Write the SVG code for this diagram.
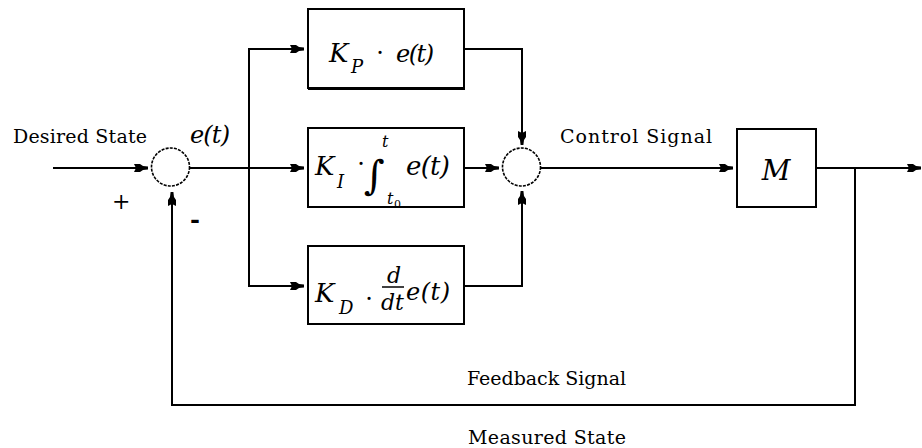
<svg xmlns="http://www.w3.org/2000/svg" width="922" height="448" viewBox="0 0 922 448">
<defs>
<marker id="arr" markerUnits="userSpaceOnUse" markerWidth="16" markerHeight="10" refX="14" refY="5" orient="auto" viewBox="0 0 16 10">
<path d="M0,1 L6,1 L9,3 L14,3.6 L14,6.4 L9,7 L6,9 L0,9 L2,5 Z" fill="#000"/>
</marker>
</defs>
<style>
.ln{fill:none;stroke:#000;stroke-width:2}
.box{fill:#fff;stroke:#000;stroke-width:2}
.sum{fill:#fff;stroke:#000;stroke-width:1.6;stroke-dasharray:3 1.2}
text{font-family:'DejaVu Serif','Liberation Serif','Times New Roman',serif;fill:#000}
.lbl{font-size:19px}
.m{font-style:italic}
</style>
<rect width="922" height="448" fill="#fff"/>
<g id="connectors">
<path class="ln" d="M53,168 H148" marker-end="url(#arr)"/>
<path class="ln" d="M190,168 H304" marker-end="url(#arr)"/>
<path class="ln" d="M249,49 V286"/>
<path class="ln" d="M248,49 H304" marker-end="url(#arr)"/>
<path class="ln" d="M248,286 H304" marker-end="url(#arr)"/>
<path class="ln" d="M464,49 H522 V145" marker-end="url(#arr)"/>
<path class="ln" d="M464,168 H499" marker-end="url(#arr)"/>
<path class="ln" d="M464,286 H522 V191" marker-end="url(#arr)"/>
<path class="ln" d="M541,168 H733" marker-end="url(#arr)"/>
<path class="ln" d="M816,168 H921" marker-end="url(#arr)"/>
<path class="ln" d="M855,168 V405 H172 V192" marker-end="url(#arr)"/>
</g>
<g id="sum1">
<circle class="sum" cx="170.5" cy="167" r="19"/>
<text x="112" y="209" font-size="22">+</text>
<text x="190" y="228" font-size="24" font-weight="bold">-</text>
</g>
<g id="sum2">
<circle class="sum" cx="521.5" cy="167" r="19"/>
</g>
<g id="kp">
<rect class="box" x="308" y="9" width="156" height="79"/>
<line x1="308" y1="89" x2="465" y2="89" stroke="#000" stroke-width="2"/>
<text class="m" x="329" y="62" font-size="26">K</text>
<text class="m" x="351" y="73" font-size="18">P</text>
<text x="380" y="61" font-size="24" text-anchor="middle">·</text>
<text class="m" x="396" y="62" font-size="24" textLength="38">e(t)</text>
</g>
<g id="ki">
<rect class="box" x="308" y="128" width="156" height="79"/>
<text class="m" x="315" y="175" font-size="26">K</text>
<text class="m" x="337" y="188" font-size="18">I</text>
<text x="361" y="172" font-size="24" text-anchor="middle">·</text>
<text class="m" x="364" y="189" font-size="40">∫</text>
<text class="m" x="382" y="147" font-size="16">t</text>
<text class="m" x="387" y="204" font-size="16">t</text>
<text x="394" y="208" font-size="11">0</text>
<text class="m" x="406" y="175" font-size="26" textLength="44">e(t)</text>
</g>
<g id="kd">
<rect class="box" x="308" y="246" width="156" height="78"/>
<text class="m" x="315" y="302" font-size="26">K</text>
<text class="m" x="339" y="314" font-size="18">D</text>
<text x="369" y="307" font-size="24" text-anchor="middle">·</text>
<text class="m" x="387" y="283" font-size="22">d</text>
<line x1="382" y1="287" x2="404" y2="287" stroke="#000" stroke-width="1.5"/>
<text class="m" x="381" y="310" font-size="22">dt</text>
<text class="m" x="406" y="300" font-size="24" textLength="44">e(t)</text>
</g>
<g id="m">
<rect class="box" x="737" y="129" width="79" height="78"/>
<text class="m" x="776" y="180" font-size="28" text-anchor="middle">M</text>
</g>
<g id="labels">
<text class="lbl" x="13" y="143" textLength="134">Desired State</text>
<text class="m" x="190" y="143" font-size="24" textLength="40">e(t)</text>
<text class="lbl" x="560" y="143" textLength="152">Control Signal</text>
<text class="lbl" x="467" y="385" textLength="159">Feedback Signal</text>
<text class="lbl" x="468" y="444" textLength="158">Measured State</text>
</g>
</svg>
